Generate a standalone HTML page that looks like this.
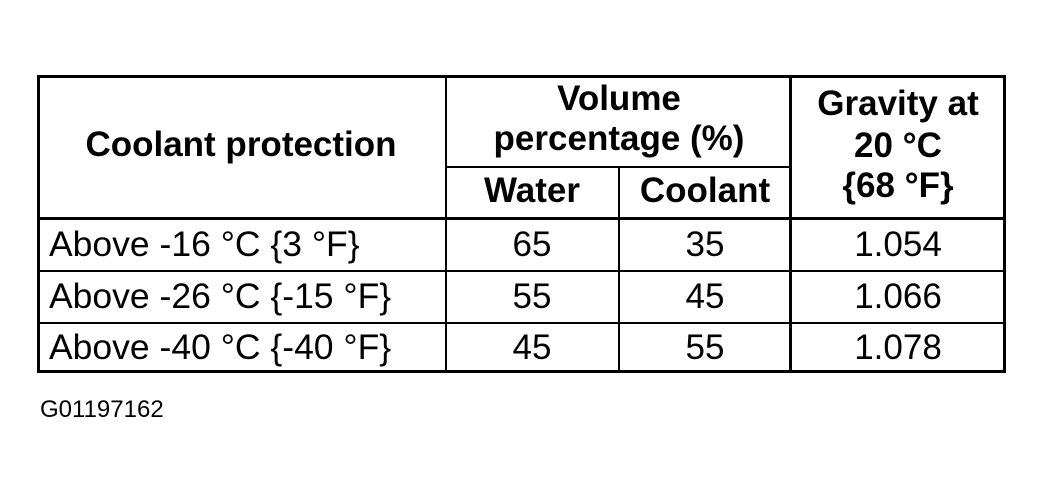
<!DOCTYPE html>
<html><head><style>
body{margin:0;width:1044px;height:493px;background:#fff;position:relative;overflow:hidden;font-family:"Liberation Sans",Arial,sans-serif;color:#000}
.l{position:absolute;background:#000}
.t{position:absolute;white-space:nowrap;font-size:35px;line-height:1}
.b{font-weight:bold;font-size:35px}
.c{transform:translateX(-50%);text-align:center}
</style></head><body>
<div class="l" style="left:37px;top:75px;width:969px;height:3px"></div>
<div class="l" style="left:37px;top:370px;width:969px;height:3px"></div>
<div class="l" style="left:37px;top:75px;width:3px;height:298px"></div>
<div class="l" style="left:1003px;top:75px;width:3px;height:298px"></div>
<div class="l" style="left:445px;top:75px;width:2px;height:298px"></div>
<div class="l" style="left:789px;top:75px;width:3px;height:298px"></div>
<div class="l" style="left:618px;top:166px;width:2px;height:207px"></div>
<div class="l" style="left:445px;top:166px;width:345px;height:2px"></div>
<div class="l" style="left:37px;top:217px;width:969px;height:3px"></div>
<div class="l" style="left:37px;top:270px;width:969px;height:2px"></div>
<div class="l" style="left:37px;top:322px;width:969px;height:2px"></div>

<div class="t b c" style="left:241px;top:127px">Coolant protection</div>
<div class="t b c" style="left:619px;top:81px">Volume</div>
<div class="t b c" style="left:619px;top:121px">percentage (%)</div>
<div class="t b c" style="left:532px;top:173px">Water</div>
<div class="t b c" style="left:705px;top:173px">Coolant</div>
<div class="t b c" style="left:898px;top:86px">Gravity at</div>
<div class="t b c" style="left:898px;top:128px">20 °C</div>
<div class="t b c" style="left:898px;top:168px">{68 °F}</div>

<div class="t" style="left:49px;top:227px;font-size:35.5px">Above -16 °C {3 °F}</div>
<div class="t" style="left:49px;top:279px;font-size:35.5px">Above -26 °C {-15 °F}</div>
<div class="t" style="left:49px;top:330px;font-size:35.5px">Above -40 °C {-40 °F}</div>
<div class="t c" style="left:532px;top:227px">65</div>
<div class="t c" style="left:532px;top:279px">55</div>
<div class="t c" style="left:532px;top:330px">45</div>
<div class="t c" style="left:705px;top:227px">35</div>
<div class="t c" style="left:705px;top:279px">45</div>
<div class="t c" style="left:705px;top:330px">55</div>
<div class="t c" style="left:898px;top:227px">1.054</div>
<div class="t c" style="left:898px;top:279px">1.066</div>
<div class="t c" style="left:898px;top:330px">1.078</div>

<div class="t" style="left:40px;top:398px;font-size:24px">G01197162</div>
</body></html>
